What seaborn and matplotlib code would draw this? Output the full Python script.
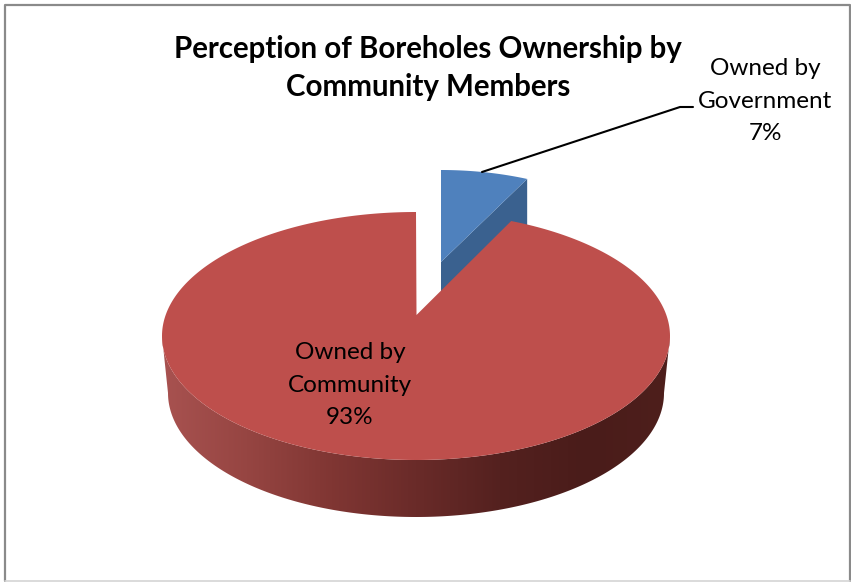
import numpy as np
import matplotlib
matplotlib.use("Agg")
import matplotlib.pyplot as plt
from matplotlib.patches import Polygon
import seaborn as sns

sns.set_theme(style="white")
plt.rcParams['font.family'] = ['Lato', 'DejaVu Sans']

# Chart content
title_text = "Perception of Boreholes Ownership by\nCommunity Members"
categories = ["Owned by\nGovernment", "Owned by\nCommunity"]
shares = [7, 93]

# Pie geometry in pixel-like axes units
red_center = (416, 336)
red_radii = (254, 124)
red_base_radii = (248, 124)
red_apex = (416.5, 315)
blue_center = (441, 293)
blue_radii = (230, 123)
blue_apex = (441, 262)
depth = 57

blue_top = "#4F81BD"
blue_side = "#3A618F"
red_top = "#BE4F4C"
wall_palette = sns.blend_palette(
    ["#A85250", "#964542", "#803633", "#6A2B29", "#54211F", "#4A1C1A", "#4E1F1C"], 256)


def foreshorten(t):
    # Rear of the tilted disc appears compressed
    return t - np.radians(4.15) * np.sin(2 * t)


def rim(center, radii, t):
    tt = foreshorten(t)
    return center[0] + radii[0] * np.sin(tt), center[1] - radii[1] * np.cos(tt)


fig = plt.figure(figsize=(8.51, 5.82), dpi=100)
ax = fig.add_axes([0, 0, 1, 1])

# Outer chart border
ax.plot([5, 5, 850, 850], [581, 5, 5, 581], color="#8A8A8A", lw=1.6, zorder=1)
ax.plot([5, 850], [581, 581], color="#D4D4D4", lw=1.2, zorder=1)

# Slice angles measured clockwise from twelve o'clock
fractions = np.array(shares, dtype=float) / sum(shares)
blue_end = 2 * np.pi * fractions[0]

# Exploded government slice: cut face first, top face over it
t_blue = np.linspace(0, blue_end, 60)
bx, by = rim(blue_center, blue_radii, t_blue)
ax.fill([bx[-1], bx[-1], blue_apex[0], blue_apex[0]],
        [by[-1], by[-1] + depth, blue_apex[1] + depth, blue_apex[1]],
        color=blue_side, lw=0, zorder=2)
ax.fill(np.r_[blue_apex[0], bx], np.r_[blue_apex[1], by], color=blue_top, lw=0, zorder=3)

# Community slice wall: horizontal shading clipped to the band between the rims
t_wall = np.linspace(np.pi / 2, 3 * np.pi / 2, 400)
tx, ty = rim(red_center, red_radii, t_wall)
ux, uy = rim((red_center[0], red_center[1] + depth), red_base_radii, t_wall)
wall_shape = Polygon(np.c_[np.r_[tx, ux[::-1]], np.r_[ty, uy[::-1]]], closed=True,
                     transform=ax.transData, fc="none", ec="none")
ax.add_patch(wall_shape)
shade = ax.imshow(np.array(wall_palette)[None, :, :], aspect="auto",
                  extent=(red_center[0] - 254, red_center[0] + 254, 530, 300),
                  interpolation="bilinear", zorder=4)
shade.set_clip_path(wall_shape)

# Community slice top face
t_red = np.linspace(blue_end, 2 * np.pi, 400)
rx, ry = rim(red_center, red_radii, t_red)
ax.fill(np.r_[red_apex[0], rx], np.r_[red_apex[1], ry], color=red_top, lw=0, zorder=5)

# Leader line to the government label
ax.plot([482, 680, 693], [172, 107, 107], color="black", lw=1.5, zorder=6,
        solid_joinstyle="miter")

# Title and data labels
ax.text(428, 68, title_text, ha="center", va="center", fontsize=21.25, fontweight="bold",
        color="black", linespacing=1.44, zorder=7)
ax.text(765, 101, f"{categories[0]}\n{shares[0]}%", ha="center", va="center",
        fontsize=17.5, color="black", linespacing=1.67, zorder=7)
ax.text(350, 385, f"{categories[1]}\n{shares[1]}%", ha="center", va="center",
        fontsize=17.5, color="black", linespacing=1.67, zorder=7)

ax.set_xlim(0, 851)
ax.set_ylim(582, 0)
ax.axis("off")

fig.savefig("out.png", dpi=100, facecolor="white")
